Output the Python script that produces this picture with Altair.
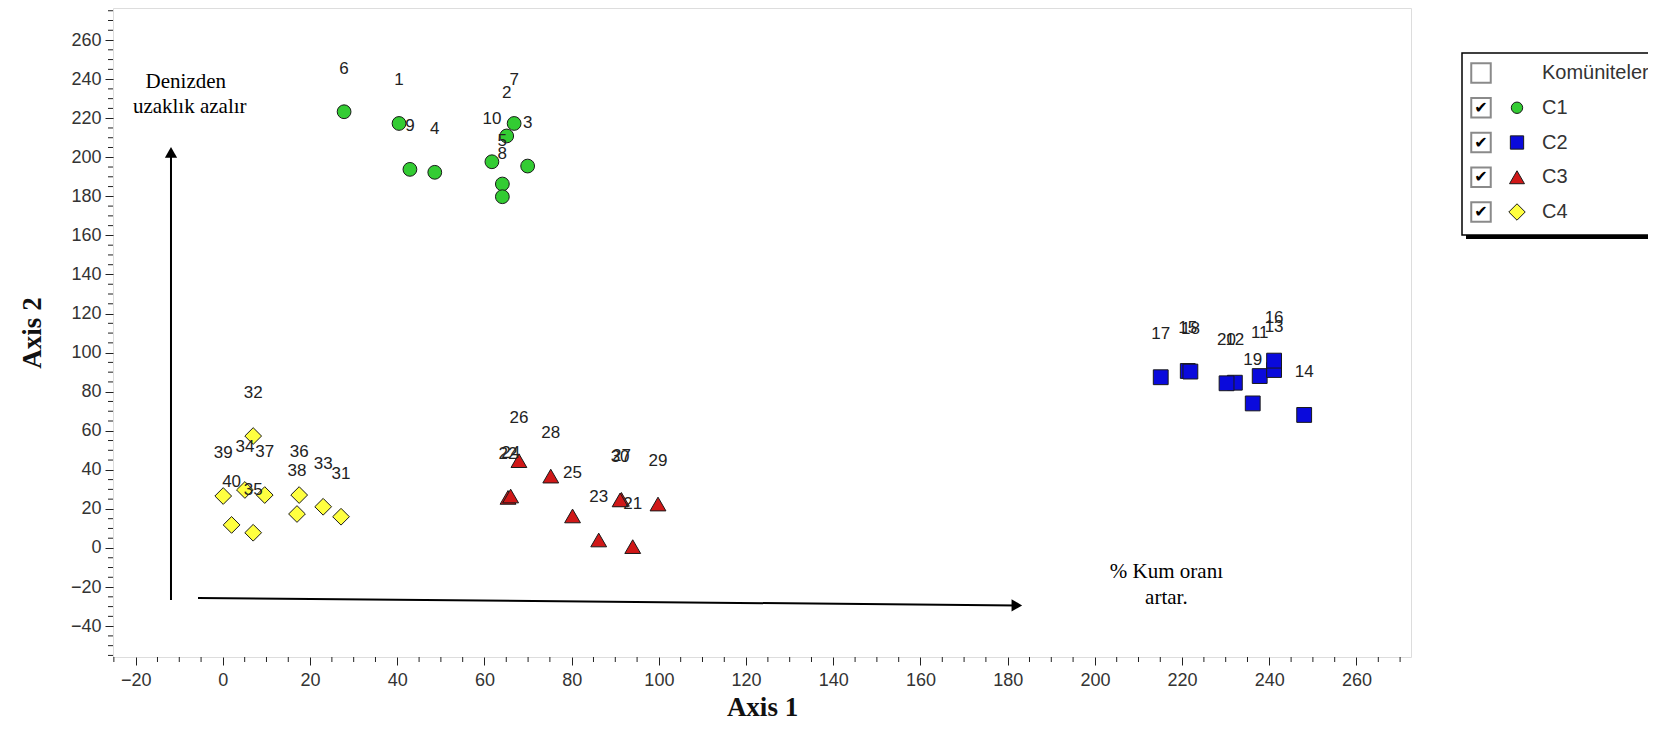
import altair as alt
import pandas as pd

# ---------------- data ----------------
ids = [str(i) for i in range(1, 41)]
cls = ["C1"] * 10 + ["C2"] * 10 + ["C3"] * 10 + ["C4"] * 10
axis1 = [40.4, 65.1, 69.9, 48.6, 64.1, 27.8, 66.8, 64.1, 42.9, 61.7,
         237.8, 232.1, 241.1, 248.0, 221.3, 241.1, 215.1, 221.9, 236.2, 230.2,
         94.0, 65.4, 86.2, 66.0, 80.2, 67.9, 91.4, 75.2, 99.8, 91.1,
         27.1, 6.95, 23.0, 5.05, 6.95, 17.5, 9.6, 17.0, 0.08, 2.0]
axis2 = [217.3, 210.9, 195.5, 192.3, 186.3, 223.3, 217.3, 179.8, 193.8, 197.7,
         88.0, 84.6, 91.1, 68.1, 90.6, 95.9, 87.4, 90.3, 74.0, 84.3,
         0.7, 25.9, 4.1, 26.6, 16.4, 44.7, 24.9, 36.8, 22.5, 24.6,
         16.0, 57.3, 21.1, 29.7, 7.8, 27.1, 27.1, 17.4, 26.6, 11.8]

groups = ["C1", "C2", "C3", "C4"]
group_colors = ["#33cc33", "#0a0adc", "#d01818", "#ffff40"]
group_shapes = ["circle", "square", "triangle-up", "diamond"]
group_sizes = [190, 280, 300, 260]
legend_sizes = [130, 270, 270, 240]

legend_rows = ["Komüniteler", "C1", "C2", "C3", "C4"]
legend_checked = ["", "✔", "✔", "✔", "✔"]

note_text = ["Denizden", "uzaklık azalır", "% Kum oranı", "artar."]
note_x = [-8.5, -7.6, 216.4, 216.4]
note_y = [238.5, 225.7, -12.3, -25.6]

arrow_x = [-11.9, -5.7]
arrow_y = [-26.6, -25.6]
arrow_x2 = [-11.9, 182.1]
arrow_y2 = [202.5, -29.4]
head_shape = ["triangle-up", "triangle-right"]

x_major = list(range(-20, 261, 20))
x_minor = [v for v in range(-25, 271, 5) if v % 20 != 0]
y_major = list(range(-40, 261, 20))
y_minor = [v for v in range(-55, 276, 5) if v % 20 != 0]

X_DOMAIN = [-25.2, 272.5]
Y_DOMAIN = [-55.8, 276.4]

df = pd.DataFrame({"id": ids, "cls": cls, "a1": axis1, "a2": axis2})
notes = pd.DataFrame({"t": note_text, "x": note_x, "y": note_y})
arrows = pd.DataFrame({"x": arrow_x, "y": arrow_y, "x2": arrow_x2, "y2": arrow_y2, "s": head_shape})
leg = pd.DataFrame({"row": legend_rows, "chk": legend_checked,
                    "cls": [None] + groups})
xminor_df = pd.DataFrame({"v": x_minor})
yminor_df = pd.DataFrame({"v": y_minor})

PW, PH = 1298, 649

xs = alt.Scale(domain=X_DOMAIN, nice=False, zero=False)
ys = alt.Scale(domain=Y_DOMAIN, nice=False, zero=False)
color_scale = alt.Scale(domain=groups, range=group_colors)
shape_scale = alt.Scale(domain=groups, range=group_shapes)
size_scale = alt.Scale(domain=groups, range=group_sizes)
lsize_scale = alt.Scale(domain=groups, range=legend_sizes)

x_axis = alt.Axis(
    title="Axis 1", values=x_major, grid=False, domain=False,
    labelOverlap=False, labelFont="Liberation Sans", labelFontSize=18,
    labelColor="#333333", labelPadding=6,
    tickColor="#222222", tickWidth=1, tickSize=8,
    titleFont="Liberation Serif", titleFontSize=27, titleFontWeight="bold",
    titleColor="#111111", titlePadding=5,
)
y_axis = alt.Axis(
    title="Axis 2", values=y_major, grid=False, domain=False,
    labelOverlap=False, labelFont="Liberation Sans", labelFontSize=18,
    labelColor="#333333", labelPadding=4,
    tickColor="#222222", tickWidth=1, tickSize=8,
    titleFont="Liberation Serif", titleFontSize=27, titleFontWeight="bold",
    titleColor="#111111", titlePadding=24,
)

base = alt.Chart(df)
pts = base.mark_point(filled=True, stroke="#1a1a1a", strokeWidth=1, opacity=1).encode(
    x=alt.X("a1:Q", scale=xs, axis=x_axis),
    y=alt.Y("a2:Q", scale=ys, axis=y_axis),
    color=alt.Color("cls:N", scale=color_scale, legend=None),
    fill=alt.Fill("cls:N", scale=color_scale, legend=None),
    shape=alt.Shape("cls:N", scale=shape_scale, legend=None),
    size=alt.Size("cls:N", scale=size_scale, legend=None),
)
lbl = base.mark_text(dy=-43, font="Liberation Sans", fontSize=17, color="#222222").encode(
    x="a1:Q", y="a2:Q", text="id:N"
)

xminor = alt.Chart(xminor_df).mark_rule(color="#222222", strokeWidth=1).encode(
    x="v:Q", y=alt.value(PH), y2=alt.value(PH + 5))
yminor = alt.Chart(yminor_df).mark_rule(color="#222222", strokeWidth=1).encode(
    y="v:Q", x=alt.value(0), x2=alt.value(-5))

note_layer = alt.Chart(notes).mark_text(font="Liberation Serif", fontSize=21, color="#000000").encode(
    x="x:Q", y="y:Q", text="t:N"
)
arrow_lines = alt.Chart(arrows).mark_rule(color="#000000", strokeWidth=2).encode(
    x="x:Q", y="y:Q", x2="x2:Q", y2="y2:Q"
)
arrow_heads = alt.Chart(arrows).mark_point(filled=True, color="#000000", size=150, opacity=1).encode(
    x=alt.X("x2:Q"), y=alt.Y("y2:Q"),
    shape=alt.Shape("s:N", scale=None, legend=None),
)

main = alt.layer(pts, lbl, xminor, yminor, note_layer, arrow_lines, arrow_heads)

# ---------------- legend (drawn inside the same chart) ----------------
one = alt.Chart(pd.DataFrame({"k": [0]}))
LX0, LX1, LY0, LY1 = 1349, 1700, 45, 227
shadow = one.mark_rect(color="#000000").encode(
    x=alt.value(LX0 + 4), x2=alt.value(LX1 + 4), y=alt.value(LY0 + 4), y2=alt.value(LY1 + 4))
box = one.mark_rect(fill="#ffffff", stroke="#000000", strokeWidth=1.5).encode(
    x=alt.value(LX0), x2=alt.value(LX1), y=alt.value(LY0), y2=alt.value(LY1))

row_y = alt.Y("row:N", scale=alt.Scale(type="point", domain=legend_rows, range=[65, 204], padding=0), axis=None)
legbase = alt.Chart(leg)
chk_box = legbase.mark_square(size=380, fill="#ffffff", stroke="#8a8a8a", strokeWidth=2, opacity=1).encode(
    x=alt.value(1368), y=row_y)
chk_mark = legbase.mark_text(font="DejaVu Sans", fontSize=16, color="#000000", fontWeight="bold").encode(
    x=alt.value(1368), y=row_y, text="chk:N")
sym = legbase.transform_filter("datum.cls != null").mark_point(
    filled=True, stroke="#1a1a1a", strokeWidth=1, opacity=1).encode(
    x=alt.value(1404), y=row_y,
    color=alt.Color("cls:N", scale=color_scale, legend=None),
    fill=alt.Fill("cls:N", scale=color_scale, legend=None),
    shape=alt.Shape("cls:N", scale=shape_scale, legend=None),
    size=alt.Size("cls:N", scale=lsize_scale, legend=None),
)
txt = legbase.mark_text(align="left", font="Liberation Sans", fontSize=20, color="#333333").encode(
    x=alt.value(1429), y=row_y, text="row:N")

legend_layer = alt.layer(shadow, box, chk_box, chk_mark, sym, txt).resolve_scale(size="independent")

chart = alt.layer(main, legend_layer).resolve_scale(y="independent", size="independent").properties(
    width=PW, height=PH,
    padding={"left": 105, "top": 0, "right": 237, "bottom": 63},
    autosize=alt.AutoSizeParams(type="none"),
).configure_view(stroke="#000000", strokeWidth=1.5).configure(background="#ffffff")

chart.save("out.html", embed_options={"renderer": "svg", "actions": False})
